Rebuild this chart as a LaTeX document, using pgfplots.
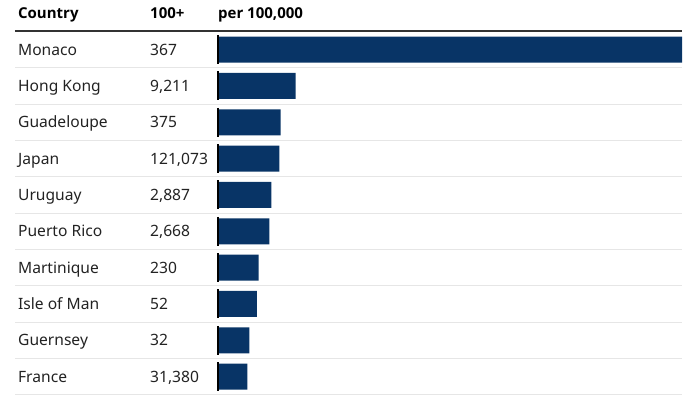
\documentclass[border=0pt]{standalone}
\usepackage{pgfplots}
\pgfplotsset{compat=1.18}
\usepackage{fontspec}
\setmainfont{Noto Sans}
\newfontfamily\hdr{Open Sans}
\definecolor{barc}{HTML}{083466}
\definecolor{txt}{HTML}{222222}
\definecolor{gridc}{HTML}{E6E6E6}
\definecolor{topl}{HTML}{333333}
\begin{document}
\begin{tikzpicture}
\begin{axis}[
  scale only axis, width=667bp, height=363.33bp,
  xmin=-323.7, xmax=740, ymin=-0.5, ymax=9.5, y dir=reverse,
  axis line style={draw=none},
  xtick=\empty,
  ytick={0.5,1.5,2.5,3.5,4.5,5.5,6.5,7.5,8.5},
  yticklabels={},
  major tick length=0pt,
  ymajorgrids, grid style={gridc, line width=1bp},
  clip=false,
]
\draw[gridc, line width=1bp] (axis cs:-323.7,9.5) -- (axis cs:740,9.5);
\draw[topl, line width=2bp] (axis cs:-323.7,-0.5) -- (axis cs:740,-0.5);
\addplot[xbar, bar width=26bp, fill=barc, draw=none] coordinates {
 (740,0) (124,1) (100,2) (98,3) (85,4) (82,5) (65,6) (62,7) (50,8) (47,9)};
\addplot[only marks, mark=|, mark size=14.5bp, mark options={line width=1.6bp, black}] coordinates {
 (0,0) (0,1) (0,2) (0,3) (0,4) (0,5) (0,6) (0,7) (0,8) (0,9)};
\coordinate (tl) at (axis description cs:0,1);
\coordinate (br) at (axis description cs:1,0);
\begin{scope}[every node/.style={anchor=base west, inner sep=0pt, font=\fontsize{15.6bp}{18bp}\selectfont, text=txt}]
\node[font=\hdr\bfseries\fontsize{15bp}{18bp}\selectfont, text=black] at (axis cs:-319,-0.844) {Country};
\node[font=\hdr\bfseries\fontsize{15bp}{18bp}\selectfont, text=black] at (axis cs:-108.4,-0.844) {100+};
\node[font=\hdr\bfseries\fontsize{15bp}{18bp}\selectfont, text=black] at (axis cs:0,-0.844) {per 100,000};
\node at (axis cs:-319,0.155) {Monaco};      \node at (axis cs:-108.4,0.155) {367};
\node at (axis cs:-319,1.155) {Hong Kong};   \node at (axis cs:-108.4,1.155) {9,211};
\node at (axis cs:-319,2.155) {Guadeloupe};  \node at (axis cs:-108.4,2.155) {375};
\node at (axis cs:-319,3.155) {Japan};       \node at (axis cs:-108.4,3.155) {121,073};
\node at (axis cs:-319,4.155) {Uruguay};     \node at (axis cs:-108.4,4.155) {2,887};
\node at (axis cs:-319,5.155) {Puerto Rico}; \node at (axis cs:-108.4,5.155) {2,668};
\node at (axis cs:-319,6.155) {Martinique};  \node at (axis cs:-108.4,6.155) {230};
\node at (axis cs:-319,7.155) {Isle of Man}; \node at (axis cs:-108.4,7.155) {52};
\node at (axis cs:-319,8.155) {Guernsey};    \node at (axis cs:-108.4,8.155) {32};
\node at (axis cs:-319,9.155) {France};      \node at (axis cs:-108.4,9.155) {31,380};
\end{scope}
\end{axis}
\pgfresetboundingbox
\path ([shift={(-15bp,31.5bp)}]tl) rectangle ([shift={(10bp,-2.7bp)}]br);
\end{tikzpicture}
\end{document}
